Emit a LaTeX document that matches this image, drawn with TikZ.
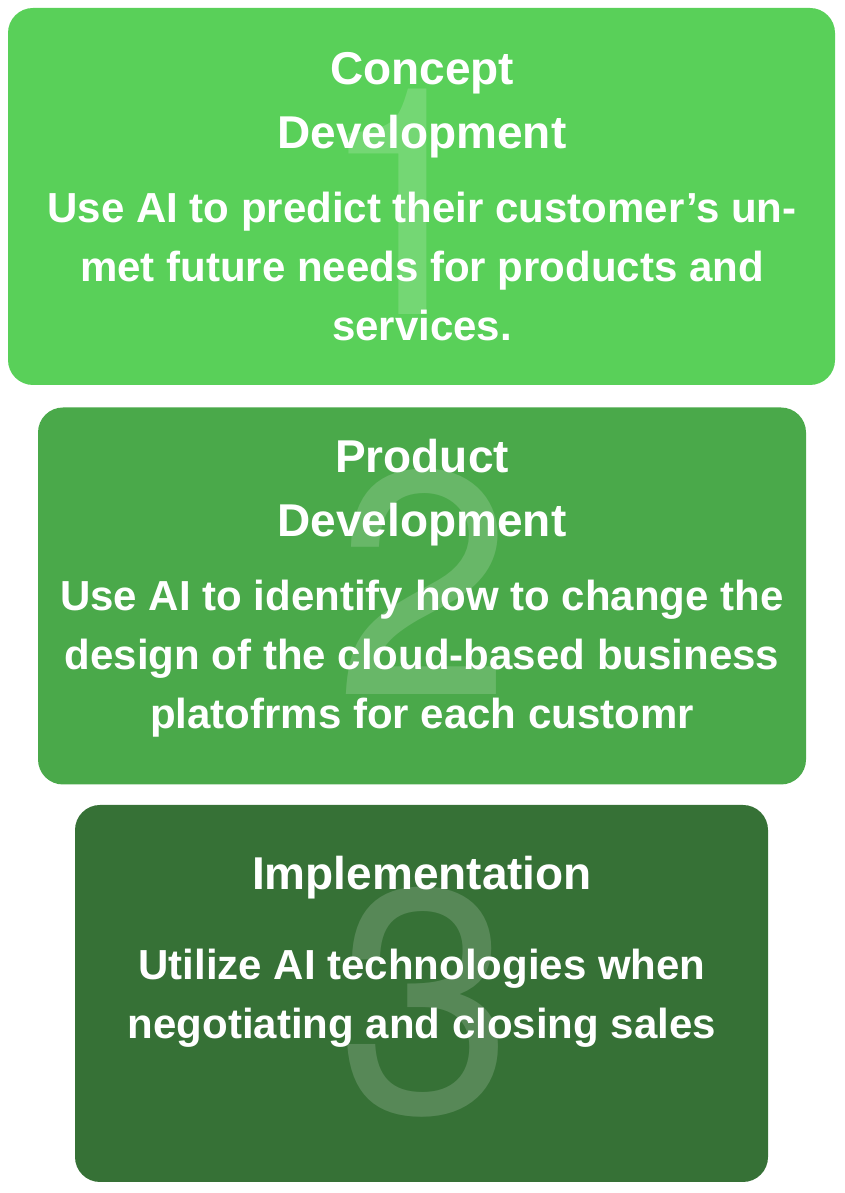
\documentclass[tikz,border=0pt]{standalone}
\usepackage{fontspec}
\setmainfont{Liberation Sans}
\newfontfamily\numfont{TeX Gyre Heros}
\definecolor{conceptgreen}{RGB}{89,208,89}
\definecolor{productgreen}{RGB}{74,169,74}
\definecolor{implgreen}{RGB}{54,113,54}
\begin{document}
\begin{tikzpicture}[
        x=1pt, y=1pt,
        stagebox/.style={rectangle, rounded corners=25pt, minimum height=377pt, inner sep=0pt},
        numeral/.style={text=white, text opacity=0.17, inner sep=0pt, anchor=base, font=\numfont\fontsize{318}{318}\selectfont},
        heading/.style={text=white, inner sep=0pt, anchor=base, align=center, font=\bfseries\fontsize{46}{64}\selectfont},
        body/.style={text=white, inner sep=0pt, anchor=base, align=center, font=\bfseries\fontsize{42}{59}\selectfont}
    ]
        \useasboundingbox (0,0) rectangle (845,1193);

        % Stage boxes
        \node[stagebox, fill=conceptgreen, minimum width=827pt] (concept) at (421.5,996.5) {};
        \node[stagebox, fill=productgreen, minimum width=768pt] (product) at (422,597) {};
        \node[stagebox, fill=implgreen, minimum width=693pt] (impl) at (421.5,199.5) {};

        % Big numbers
        \node[numeral] (one) at (405,878) {1};
        \node[numeral] (two) at (424,498) {2};
        \node[numeral] (three) at (426,80) {3};

        % Titles (base = last line)
        \node[heading] (concepttitle) at (422,1044) {Concept\\Development};
        \node[heading] (producttitle) at (422,656) {Product\\Development};
        \node[heading] (impltitle) at (422,303) {Implementation};

        % Descriptions
        \node[body] (concepttext) at (422,852) {Use AI to predict their customer’s un-\\met future needs for products and\\services.};
        \node[body] (producttext) at (422,464) {Use AI to identify how to change the\\design of the cloud-based business\\platofrms for each customr};
        \node[body] (impltext) at (422,154) {Utilize AI technologies when\\negotiating and closing sales};
    \end{tikzpicture}
\end{document}
